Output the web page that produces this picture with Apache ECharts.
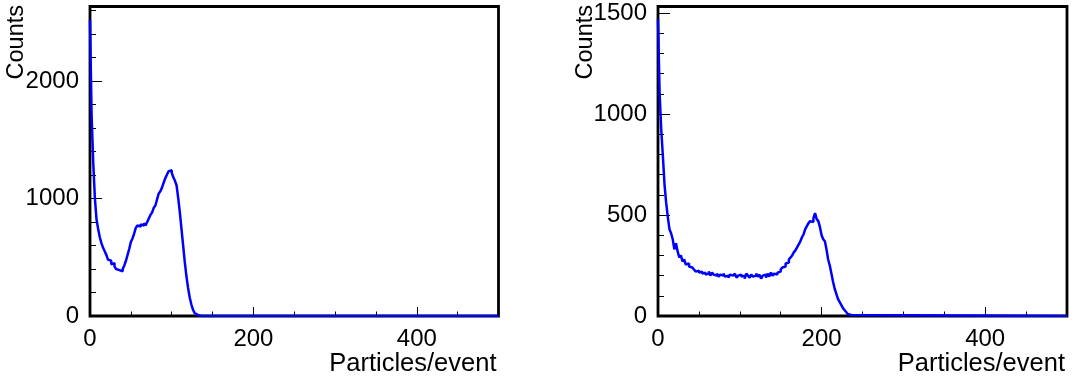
<!DOCTYPE html>
<html>
<head>
<meta charset="utf-8">
<script src="https://cdn.jsdelivr.net/npm/echarts@6/dist/echarts.min.js"></script>
<style>
    html, body { margin: 0; padding: 0; background: #fff; }
    #chart { width: 1079px; height: 379px; }
</style>
</head>
<body>
<div id="chart"></div>
<script>
// bin width (Particles/event) and x range
const BIN = 2;
const X_MAX = 500;

// left histogram: counts per bin, starting at 0
const leftCounts = [
    2520, 1700, 1300, 1000, 820, 740, 670, 620, 580, 550,
    520, 480, 470, 440, 450, 420, 400, 390, 385, 380,
    400, 430, 470, 520, 570, 630, 660, 700, 750, 770,
    760, 780, 770, 790, 770, 800, 830, 860, 880, 920,
    940, 990, 1040, 1060, 1090, 1130, 1170, 1200, 1230, 1240,
    1220, 1180, 1150, 1110, 1000, 880, 740, 600, 460, 340,
    240, 160, 100, 55, 25, 10, 4, 1, 0
];

// right histogram: counts per bin, starting at 0
const rightCounts = [
    1470, 1100, 920, 790, 650, 560, 490, 430, 410, 380,
    330, 360, 320, 290, 300, 270, 280, 255, 260, 245,
    240, 235, 230, 220, 225, 215, 220, 210, 215, 205,
    210, 220, 200, 215, 205, 200, 210, 195, 205, 200,
    210, 195, 200, 190, 205, 200, 195, 210, 190, 200,
    205, 195, 200, 185, 210, 200, 190, 205, 195, 200,
    210, 195, 205, 185, 200, 205, 190, 210, 195, 215,
    200, 210, 205, 215, 220, 230, 240, 245, 260, 265,
    280, 290, 300, 315, 325, 340, 355, 370, 390, 405,
    430, 445, 460, 470, 465, 485, 510, 480, 470, 440,
    400, 380, 370, 330, 280, 250, 210, 170, 135, 110,
    85, 70, 55, 40, 30, 20, 10, 5, 2, 0
];

// axis ranges and tick steps
const leftYMax = 2633;
const rightYMax = 1533;
const xMajor = 200, xMinor = 50;
const leftYMajor = 1000, leftYMinor = 200;
const rightYMajor = 500, rightYMinor = 100;

const xTitle = 'Particles/event';
const yTitle = 'Counts';

const FONT = '"Liberation Sans", Arial, Helvetica, sans-serif';
const LABEL_SIZE = 24;
const XTITLE_SIZE = 25.5;
const YTITLE_SIZE = 23.5;

const toSteps = counts => counts.map((v, i) => [i * BIN, v]).concat([[X_MAX, 0]]);

const chart = echarts.init(document.getElementById('chart'), null, { renderer: 'canvas' });

const grids = [
    { left: 90, top: 6.5, width: 408.5, height: 309.5 },
    { left: 658, top: 6.5, width: 409, height: 309.5 }
];

// major axis: labels + long ticks, minor axis: short ticks only
function xAxes(gridIndex) {
    return [
        {
            type: 'value', gridIndex, position: 'bottom', min: 0, max: X_MAX, interval: xMajor,
            axisLine: { show: false },
            axisTick: { inside: true, length: 9, lineStyle: { color: '#000', width: 1 } },
            splitLine: { show: false },
            axisLabel: { color: '#000', fontFamily: FONT, fontSize: LABEL_SIZE, margin: 11, showMaxLabel: false, formatter: v => String(v) },
            name: xTitle,
            nameLocation: 'end',
            nameGap: -2,
            nameTextStyle: { color: '#000', fontFamily: FONT, fontSize: XTITLE_SIZE, align: 'right', verticalAlign: 'top', padding: [35, 0, 0, 0] }
        },
        {
            type: 'value', gridIndex, position: 'bottom', min: 0, max: X_MAX, interval: xMinor,
            axisLine: { show: false },
            axisTick: { inside: true, length: 4.5, lineStyle: { color: '#000', width: 1 } },
            splitLine: { show: false },
            axisLabel: { show: false }
        }
    ];
}

function yAxes(gridIndex, max, major, minor) {
    return [
        {
            type: 'value', gridIndex, position: 'left', min: 0, max, interval: major,
            axisLine: { show: false },
            axisTick: { inside: true, length: 12, lineStyle: { color: '#000', width: 1 } },
            splitLine: { show: false },
            axisLabel: { color: '#000', fontFamily: FONT, fontSize: LABEL_SIZE, margin: 11, showMaxLabel: false, formatter: v => String(v) }
        },
        {
            type: 'value', gridIndex, position: 'left', min: 0, max, interval: minor,
            axisLine: { show: false },
            axisTick: { inside: true, length: 6, lineStyle: { color: '#000', width: 1 } },
            splitLine: { show: false },
            axisLabel: { show: false }
        }
    ];
}

function countsTitle(x) {
    return {
        type: 'text',
        x, y: 5,
        rotation: Math.PI / 2,
        z: 10,
        style: {
            text: yTitle,
            fill: '#000',
            font: YTITLE_SIZE + 'px ' + FONT,
            textAlign: 'right',
            textVerticalAlign: 'middle',
            align: 'right',
            verticalAlign: 'middle'
        }
    };
}

const option = {
    animation: false,
    backgroundColor: '#fff',
    grid: grids.map(g => Object.assign({ show: true, borderColor: '#000', borderWidth: 2.8, backgroundColor: 'transparent' }, g)),
    xAxis: [...xAxes(0), ...xAxes(1)],
    yAxis: [...yAxes(0, leftYMax, leftYMajor, leftYMinor), ...yAxes(1, rightYMax, rightYMajor, rightYMinor)],
    graphic: [countsTitle(16.5), countsTitle(586)],
    series: [
        {
            type: 'line', xAxisIndex: 0, yAxisIndex: 0,
            step: 'end', symbol: 'none', z: 5,
            lineStyle: { color: '#0000ff', width: 2.5 },
            data: toSteps(leftCounts)
        },
        {
            type: 'line', xAxisIndex: 2, yAxisIndex: 2,
            step: 'end', symbol: 'none', z: 5,
            lineStyle: { color: '#0000ff', width: 2.5 },
            data: toSteps(rightCounts)
        }
    ]
};

chart.setOption(option);
</script>
</body>
</html>
